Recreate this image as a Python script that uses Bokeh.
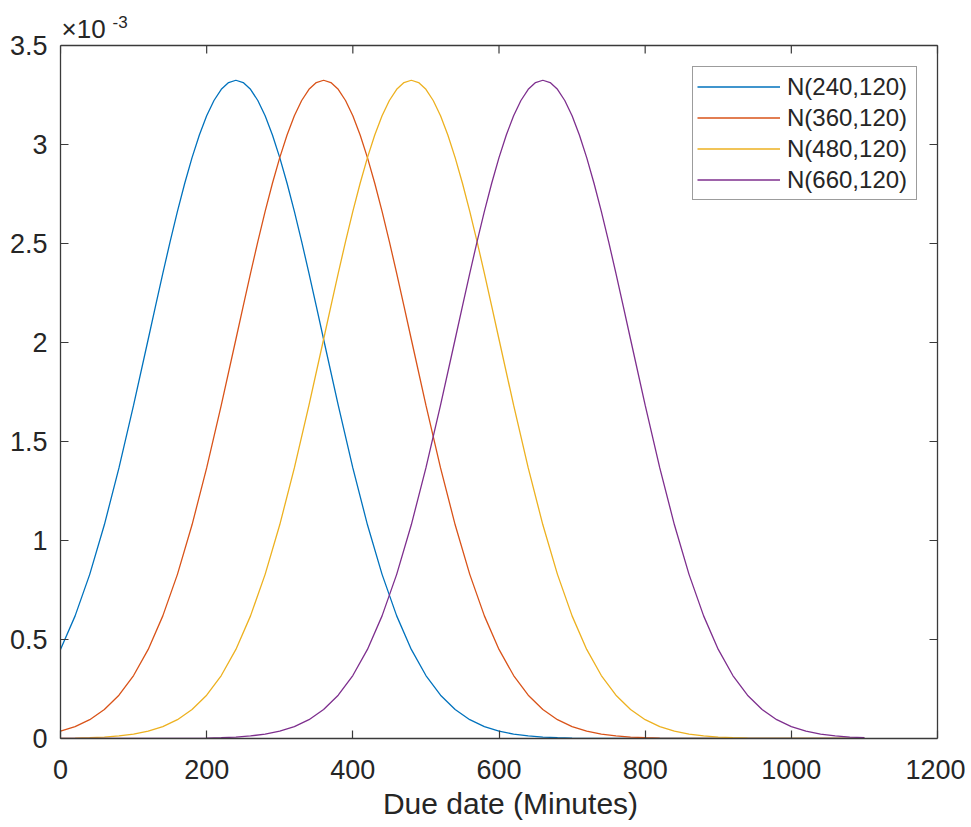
from bokeh.plotting import figure
from bokeh.models import Range1d, LinearAxis, FixedTicker, Label, Legend, LegendItem
from bokeh.embed import file_html
from bokeh.resources import INLINE

# ---- data (density values, in units of 1e-3) ----
# sample grids (minutes): 20-min steps on the tails, 10-min steps around each peak
x_n240 = list(range(0, 120, 20)) + list(range(120, 361, 10)) + list(range(380, 1101, 20))
x_n360 = list(range(0, 240, 20)) + list(range(240, 481, 10)) + list(range(500, 1101, 20))
x_n480 = list(range(0, 360, 20)) + list(range(360, 601, 10)) + list(range(620, 1101, 20))
x_n660 = list(range(0, 540, 20)) + list(range(540, 781, 10)) + list(range(800, 1101, 20))

n240 = [0.4499, 0.6193, 0.8290, 1.0793, 1.3667, 1.6833,
        2.0164, 2.1841, 2.3493, 2.5095, 2.6621, 2.8044, 2.9339, 3.0481, 3.1449, 3.2222, 3.2787, 3.3130, 3.3245,
        3.3130, 3.2787, 3.2222, 3.1449, 3.0481, 2.9339, 2.8044, 2.6621, 2.5095, 2.3493, 2.1841, 2.0164,
        1.6833, 1.3667, 1.0793, 0.8290, 0.6193, 0.4499, 0.3180, 0.2185, 0.1461, 0.0950, 0.0600, 0.0369,
        0.0221, 0.0129, 0.0073, 0.0040, 0.0021, 0.0011, 0.0006, 0.0003, 0.0001, 0.0001,
        0, 0, 0, 0, 0, 0, 0, 0, 0, 0, 0, 0, 0, 0, 0]
n360 = [0.0369, 0.0600, 0.0950, 0.1461, 0.2185, 0.3180, 0.4499, 0.6193, 0.8290, 1.0793, 1.3667, 1.6833,
        2.0164, 2.1841, 2.3493, 2.5095, 2.6621, 2.8044, 2.9339, 3.0481, 3.1449, 3.2222, 3.2787, 3.3130, 3.3245,
        3.3130, 3.2787, 3.2222, 3.1449, 3.0481, 2.9339, 2.8044, 2.6621, 2.5095, 2.3493, 2.1841, 2.0164,
        1.6833, 1.3667, 1.0793, 0.8290, 0.6193, 0.4499, 0.3180, 0.2185, 0.1461, 0.0950, 0.0600, 0.0369,
        0.0221, 0.0129, 0.0073, 0.0040, 0.0021, 0.0011, 0.0006, 0.0003, 0.0001, 0.0001,
        0, 0, 0, 0, 0, 0, 0, 0, 0]
n480 = [0.0011, 0.0021, 0.0040, 0.0073, 0.0129, 0.0221,
        0.0369, 0.0600, 0.0950, 0.1461, 0.2185, 0.3180, 0.4499, 0.6193, 0.8290, 1.0793, 1.3667, 1.6833,
        2.0164, 2.1841, 2.3493, 2.5095, 2.6621, 2.8044, 2.9339, 3.0481, 3.1449, 3.2222, 3.2787, 3.3130, 3.3245,
        3.3130, 3.2787, 3.2222, 3.1449, 3.0481, 2.9339, 2.8044, 2.6621, 2.5095, 2.3493, 2.1841, 2.0164,
        1.6833, 1.3667, 1.0793, 0.8290, 0.6193, 0.4499, 0.3180, 0.2185, 0.1461, 0.0950, 0.0600, 0.0369,
        0.0221, 0.0129, 0.0073, 0.0040, 0.0021, 0.0011, 0.0006, 0.0003, 0.0001, 0.0001,
        0, 0, 0]
n660 = [0, 0, 0, 0, 0, 0.0001, 0.0001, 0.0003,
        0.0006, 0.0011, 0.0021, 0.0040, 0.0073, 0.0129, 0.0221,
        0.0369, 0.0600, 0.0950, 0.1461, 0.2185, 0.3180, 0.4499, 0.6193, 0.8290, 1.0793, 1.3667, 1.6833,
        2.0164, 2.1841, 2.3493, 2.5095, 2.6621, 2.8044, 2.9339, 3.0481, 3.1449, 3.2222, 3.2787, 3.3130, 3.3245,
        3.3130, 3.2787, 3.2222, 3.1449, 3.0481, 2.9339, 2.8044, 2.6621, 2.5095, 2.3493, 2.1841, 2.0164,
        1.6833, 1.3667, 1.0793, 0.8290, 0.6193, 0.4499, 0.3180, 0.2185, 0.1461, 0.0950, 0.0600, 0.0369,
        0.0221, 0.0129, 0.0073, 0.0040]

series_labels = ["N(240,120)", "N(360,120)", "N(480,120)", "N(660,120)"]
series_x = [x_n240, x_n360, x_n480, x_n660]
series_values = [n240, n360, n480, n660]
series_colors = ["#0072BD", "#D95319", "#EDB120", "#7E2F8E"]

x_ticks = [0, 200, 400, 600, 800, 1000, 1200]
y_ticks = [0, 0.5, 1, 1.5, 2, 2.5, 3, 3.5]
y_tick_labels = ["0", "0.5", "1", "1.5", "2", "2.5", "3", "3.5"]
x_title = "Due date (Minutes)"
exp_base = "×10"
exp_power = "-3"

for xs, ys in zip(series_x, series_values):
    assert len(xs) == len(ys), (len(xs), len(ys))

FONT = "Liberation Sans"
TXT = "#262626"
AX = "#3a3a3a"

# layout geometry (pixels)
FW, FH = 900, 738          # frame size (frame extends above/right of the axes box)
BOX_W, BOX_H = 877, 693    # axes box size
TICK = 8

x_lo, x_hi = x_ticks[0], x_ticks[-1]
y_lo, y_hi = y_ticks[0], y_ticks[-1]
x_end = x_lo + (x_hi - x_lo) * FW / BOX_W
y_end = y_lo + (y_hi - y_lo) * FH / BOX_H

p = figure(frame_width=FW, frame_height=FH, output_backend="svg", toolbar_location=None,
           x_range=Range1d(x_lo, x_end), y_range=Range1d(y_lo, y_end),
           min_border_left=60, min_border_top=0, min_border_right=5, min_border_bottom=85,
           x_axis_location=None, y_axis_location=None)
p.xgrid.visible = False
p.ygrid.visible = False
p.outline_line_color = None
p.background_fill_color = "white"
p.border_fill_color = "white"

def style_axis(ax, ticks):
    ax.ticker = FixedTicker(ticks=ticks)
    ax.minor_tick_line_color = None
    ax.major_tick_in = TICK
    ax.major_tick_out = 0
    ax.major_tick_line_color = AX
    ax.major_tick_line_width = 1.2
    ax.axis_line_color = AX
    ax.axis_line_width = 1.3
    ax.major_label_text_font = FONT
    ax.major_label_text_color = TXT
    ax.major_label_text_font_size = "27px"

xb = LinearAxis(bounds=(x_lo, x_hi))
style_axis(xb, x_ticks)
xb.major_label_standoff = 21
xb.axis_label = x_title
xb.axis_label_text_font = FONT
xb.axis_label_text_font_size = "30px"
xb.axis_label_text_font_style = "normal"
xb.axis_label_text_color = TXT
xb.axis_label_standoff = 5
p.add_layout(xb, "below")

yl = LinearAxis(bounds=(y_lo, y_hi))
style_axis(yl, y_ticks)
yl.major_label_standoff = 13
yl.major_label_overrides = {t: s for t, s in zip(y_ticks, y_tick_labels)}
p.add_layout(yl, "left")

# top and right edges of the axes box, with inward ticks
dy = TICK * (y_end - y_lo) / FH
dx = TICK * (x_end - x_lo) / FW
p.line([x_lo, x_hi], [y_hi, y_hi], line_color=AX, line_width=1.3)
p.line([x_hi, x_hi], [y_lo, y_hi], line_color=AX, line_width=1.3)
p.segment(x0=x_ticks, y0=[y_hi] * len(x_ticks), x1=x_ticks, y1=[y_hi - dy] * len(x_ticks),
          line_color=AX, line_width=1.2)
p.segment(x0=[x_hi] * len(y_ticks), y0=y_ticks, x1=[x_hi - dx] * len(y_ticks), y1=y_ticks,
          line_color=AX, line_width=1.2)

items = []
for lab, xs, vals, col in zip(series_labels, series_x, series_values, series_colors):
    r = p.line(xs, vals, line_color=col, line_width=1.3)
    items.append(LegendItem(label=lab, renderers=[r]))

leg = Legend(items=items, location=(632, 538))
leg.label_text_font = FONT
leg.label_text_font_size = "24px"
leg.label_text_color = TXT
leg.label_height = 31
leg.glyph_height = 31
leg.glyph_width = 83
leg.label_width = 125
leg.label_standoff = 7
leg.spacing = 0
leg.padding = 4
leg.margin = 0
leg.border_line_color = AX
leg.border_line_width = 1.2
leg.background_fill_color = "white"
leg.background_fill_alpha = 1
p.add_layout(leg, "center")

p.add_layout(Label(x=x_lo, y=y_hi, text=exp_base, x_offset=1, y_offset=17, text_font=FONT,
                   text_font_size="26px", text_color=TXT, text_baseline="alphabetic"))
p.add_layout(Label(x=x_lo, y=y_hi, text=exp_power, x_offset=52, y_offset=24, text_font=FONT,
                   text_font_size="17px", text_color=TXT, text_baseline="alphabetic"))

open("out.html", "w").write(file_html(p, INLINE))
